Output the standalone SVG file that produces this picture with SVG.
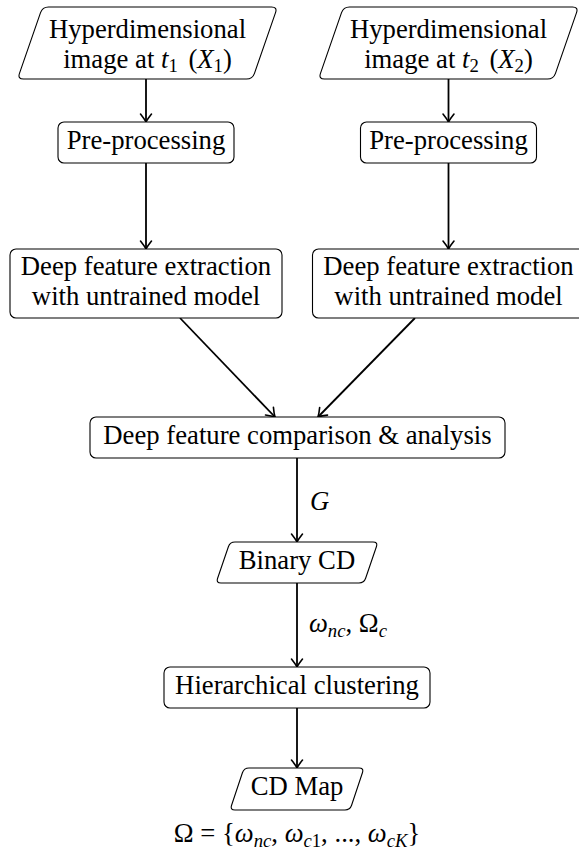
<svg xmlns="http://www.w3.org/2000/svg" width="579" height="859" viewBox="0 0 579 859" font-family="'Liberation Serif', 'DejaVu Serif', serif">
  <defs>
    <style>
      .box { fill: #fff; stroke: #000; stroke-width: 1.1; }
      text { font-family: 'Liberation Serif', 'DejaVu Serif', serif; font-size: 26.7px; fill: #000; }
      .t { text-anchor: middle; }
      .m { font-style: italic; }
      .s { font-size: 18.7px; }
      .edge { stroke: #000; stroke-width: 1.8; fill: none; marker-end: url(#arr); }
    </style>
    <marker id="arr" markerUnits="userSpaceOnUse" viewBox="-10 -7 12 14" refX="0" refY="0" markerWidth="12" markerHeight="14" orient="auto" overflow="visible">
      <path d="M -8,-5.5 Q -3,-1.5 0,0 Q -3,1.5 -8,5.5" fill="none" stroke="#000" stroke-width="1.6" stroke-linecap="round" stroke-linejoin="round"/>
    </marker>
  </defs>

  <!-- connectors -->
  <g id="edges">
    <line class="edge" x1="146" y1="79" x2="146" y2="122"/>
    <line class="edge" x1="448.5" y1="79" x2="448.5" y2="122"/>
    <line class="edge" x1="146" y1="163" x2="146" y2="249"/>
    <line class="edge" x1="448.5" y1="163" x2="448.5" y2="249"/>
    <line class="edge" x1="180" y1="318" x2="275" y2="417"/>
    <line class="edge" x1="415" y1="318" x2="318" y2="417"/>
    <line class="edge" x1="297" y1="458" x2="297" y2="542"/>
    <line class="edge" x1="297" y1="583" x2="297" y2="667"/>
    <line class="edge" x1="297" y1="708" x2="297" y2="768"/>
    <text class="m" x="310" y="510">G</text>
    <text x="309" y="632"><tspan class="m">ω</tspan><tspan class="s m" dy="5">nc</tspan><tspan dy="-5">, Ω</tspan><tspan class="s m" dy="5">c</tspan></text>
  </g>

  <!-- input image, date 1 -->
  <g id="n-x1">
    <path class="box" d="M 48.5,7 L 271.5,7 Q 277.5,7 275.53,12.67 L 254.47,73.33 Q 252.5,79 246.5,79 L 23.5,79 Q 17.5,79 19.47,73.33 L 40.53,12.67 Q 42.5,7 48.5,7 Z"/>
    <text class="t" x="147.5" y="37.5">Hyperdimensional</text>
    <text class="t" x="147.5" y="68">image at <tspan class="m">t</tspan><tspan class="s" dy="4">1</tspan><tspan dy="-4" dx="4"> (</tspan><tspan class="m">X</tspan><tspan class="s" dy="4">1</tspan><tspan dy="-4">)</tspan></text>
  </g>

  <!-- input image, date 2 -->
  <g id="n-x2">
    <path class="box" d="M 349.5,7 L 572.5,7 Q 578.5,7 576.53,12.67 L 555.47,73.33 Q 553.5,79 547.5,79 L 324.5,79 Q 318.5,79 320.47,73.33 L 341.53,12.67 Q 343.5,7 349.5,7 Z"/>
    <text class="t" x="448.5" y="37.5">Hyperdimensional</text>
    <text class="t" x="448.5" y="68">image at <tspan class="m">t</tspan><tspan class="s" dy="4">2</tspan><tspan dy="-4" dx="4"> (</tspan><tspan class="m">X</tspan><tspan class="s" dy="4">2</tspan><tspan dy="-4">)</tspan></text>
  </g>

  <g id="n-pre1">
    <rect class="box" x="58" y="122" width="176" height="41" rx="6"/>
    <text class="t" x="146" y="149">Pre-processing</text>
  </g>
  <g id="n-pre2">
    <rect class="box" x="360.5" y="122" width="176" height="41" rx="6"/>
    <text class="t" x="448.5" y="149">Pre-processing</text>
  </g>

  <g id="n-feat1">
    <rect class="box" x="10" y="249" width="272" height="69" rx="6"/>
    <text class="t" x="146" y="275">Deep feature extraction</text>
    <text class="t" x="146" y="305">with untrained model</text>
  </g>
  <g id="n-feat2">
    <rect class="box" x="312.5" y="249" width="272" height="69" rx="6"/>
    <text class="t" x="448.5" y="275">Deep feature extraction</text>
    <text class="t" x="448.5" y="305">with untrained model</text>
  </g>

  <g id="n-cmp">
    <rect class="box" x="90" y="417" width="415" height="41" rx="6"/>
    <text class="t" x="297.5" y="444">Deep feature comparison &amp; analysis</text>
  </g>

  <g id="n-bin">
    <path class="box" d="M 235,542 L 373,542 Q 378,542 376.38,546.73 L 365.62,578.27 Q 364,583 359,583 L 221,583 Q 216,583 217.62,578.27 L 228.38,546.73 Q 230,542 235,542 Z"/>
    <text class="t" x="297" y="569">Binary CD</text>
  </g>

  <g id="n-hc">
    <rect class="box" x="164" y="667" width="266" height="41" rx="6"/>
    <text class="t" x="297" y="694">Hierarchical clustering</text>
  </g>

  <g id="n-map">
    <path class="box" d="M 249,768 L 359,768 Q 364,768 362.42,772.74 L 351.58,805.26 Q 350,810 345,810 L 235,810 Q 230,810 231.58,805.26 L 242.42,772.74 Q 244,768 249,768 Z"/>
    <text class="t" x="297" y="795">CD Map</text>
    <text class="t" x="297" y="842">Ω = {<tspan class="m">ω</tspan><tspan class="s m" dy="5">nc</tspan><tspan dy="-5">, </tspan><tspan class="m">ω</tspan><tspan class="s" dy="5"><tspan class="m">c</tspan>1</tspan><tspan dy="-5">, ..., </tspan><tspan class="m">ω</tspan><tspan class="s m" dy="5">cK</tspan><tspan dy="-5">}</tspan></text>
  </g>
</svg>
